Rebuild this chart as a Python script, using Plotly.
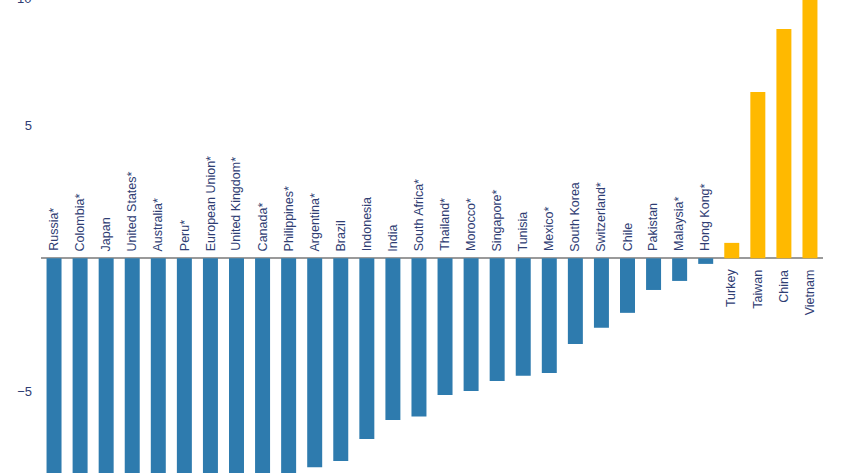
import plotly.graph_objects as go

countries = ["Russia*", "Colombia*", "Japan", "United States*", "Australia*", "Peru*",
             "European Union*", "United Kingdom*", "Canada*", "Philippines*", "Argentina*",
             "Brazil", "Indonesia", "India", "South Africa*", "Thailand*", "Morocco*",
             "Singapore*", "Tunisia", "Mexico*", "South Korea", "Switzerland*", "Chile",
             "Pakistan", "Malaysia*", "Hong Kong*", "Turkey", "Taiwan", "China", "Vietnam"]
values = [-14.0, -12.5, -11.8, -11.0, -10.5, -10.0, -9.6, -9.2, -8.8, -8.4, -7.85,
          -7.62, -6.79, -6.08, -5.95, -5.14, -4.99, -4.61, -4.41, -4.31, -3.22, -2.61,
          -2.05, -1.19, -0.85, -0.21, 0.58, 6.25, 8.62, 10.3]
tick_vals = [-5, 5]
tick_text = ["\u22125", "5"]
top_tick = "10"

BLUE = "#2e7bae"
YELLOW = "#ffb900"
NAVY = "#2f3d73"

colors = [BLUE if v < 0 else YELLOW for v in values]

fig = go.Figure(go.Bar(x=countries, y=values, marker=dict(color=colors, line=dict(width=0)),
                       hoverinfo="x+y"))

for c, v in zip(countries, values):
    fig.add_annotation(x=c, y=0, text=c, textangle=-90, showarrow=False,
                       xanchor="center", yanchor="bottom" if v < 0 else "top",
                       yshift=5 if v < 0 else -9,
                       font=dict(family="Liberation Sans, Arial", size=12.5, color=NAVY))

# the "10" tick sits just above the visible window; its lower half shows at the top edge
fig.add_annotation(x=0, xref="paper", xanchor="right", xshift=-8, y=1, yref="paper",
                   yanchor="middle", yshift=2, text=top_tick, showarrow=False,
                   font=dict(family="Liberation Sans, Arial", size=13, color=NAVY))

fig.update_layout(
    width=848, height=473,
    margin=dict(l=41, r=25, t=0, b=0),
    paper_bgcolor="white", plot_bgcolor="white",
    bargap=0.425,
    showlegend=False,
    xaxis=dict(showticklabels=False, showgrid=False, zeroline=False, showline=False,
               range=[-0.5, len(countries) - 0.5]),
    yaxis=dict(range=[-8.07, 9.71], tickvals=tick_vals, ticktext=tick_text,
               showgrid=False, zeroline=True, zerolinecolor="#9a9a9a", zerolinewidth=2,
               showline=False, ticks="", ticklabelstandoff=8,
               tickfont=dict(family="Liberation Sans, Arial", size=13, color=NAVY)),
)

fig.write_html("out.html")
